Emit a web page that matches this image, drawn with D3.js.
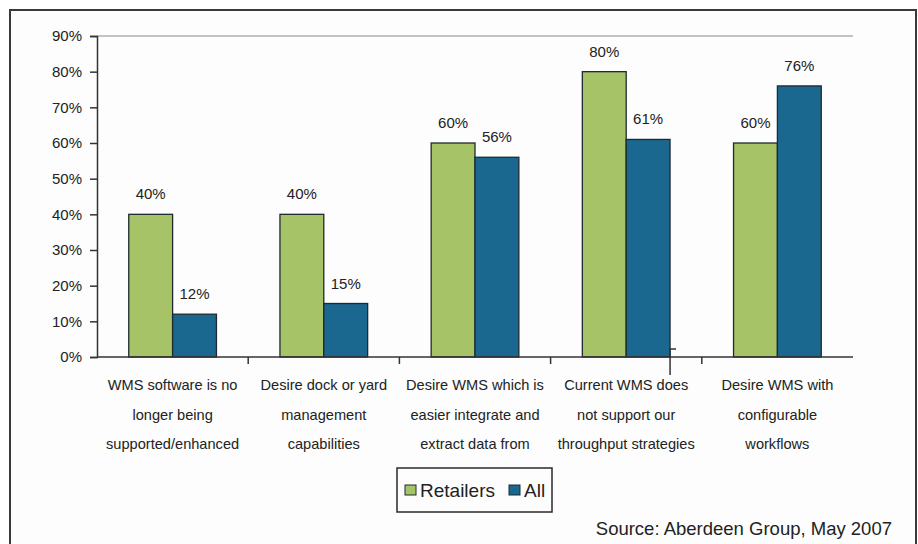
<!DOCTYPE html>
<html><head><meta charset="utf-8">
<script src="https://cdn.jsdelivr.net/npm/d3@7"></script>
<style>
html,body{margin:0;padding:0;background:#fff;}
svg{display:block;}
text{font-family:"Liberation Sans",Arial,sans-serif;fill:#222;}
</style></head>
<body>
<svg id="chart" width="918" height="544"></svg>
<script>
const categories = [
  ["WMS software is no","longer being","supported/enhanced"],
  ["Desire dock or yard","management","capabilities"],
  ["Desire WMS which is","easier integrate and","extract data from"],
  ["Current WMS does","not support our","throughput strategies"],
  ["Desire WMS with","configurable","workflows"]
];
const seriesNames = ["Retailers","All"];
const retailers = [40, 40, 60, 80, 60];
const all = [12, 15, 56, 61, 76];
const yTicks = [0,10,20,30,40,50,60,70,80,90];
const colors = ["#a6c467","#1a678f"];
const sourceText = "Source: Aberdeen Group, May 2007";

const svg = d3.select("#chart");
const W = 918, H = 544;
const m = {left:97, right:65, top:36, bottom:187};

// frame
svg.append("rect").attr("x",10).attr("y",10).attr("width",906).attr("height",540)
  .attr("fill","#fcfdfc").attr("stroke","#3a3a3a").attr("stroke-width",2);

const catIdx = categories.map((d,i)=>i);
const x = d3.scaleBand().domain(catIdx).range([m.left, W - m.right]).padding(0);
const bw = x.bandwidth();
const x1 = d3.scaleBand().domain(seriesNames).range([bw*0.21, bw*0.79]).padding(0);
const y = d3.scaleLinear().domain([0,90]).range([H - m.bottom, m.top]);

// top gridline at 90%
svg.append("line").attr("x1",m.left).attr("x2",W-m.right)
  .attr("y1",y(90)).attr("y2",y(90)).attr("stroke","#8a8a8a").attr("stroke-width",1.2);

const data = catIdx.map(i => ({i, vals:[{s:"Retailers",v:retailers[i],c:colors[0]},{s:"All",v:all[i],c:colors[1]}]}));

const g = svg.append("g");
const groups = g.selectAll("g.grp").data(data).join("g").attr("transform",d=>`translate(${x(d.i)},0)`);
groups.selectAll("rect").data(d=>d.vals).join("rect")
  .attr("x",d=>x1(d.s)).attr("width",x1.bandwidth())
  .attr("y",d=>y(d.v)).attr("height",d=>y(0)-y(d.v))
  .attr("fill",d=>d.c).attr("stroke","#1e2a30").attr("stroke-width",1.3);
groups.selectAll("text.val").data(d=>d.vals).join("text").attr("class","val")
  .attr("x",d=>x1(d.s)+x1.bandwidth()/2).attr("y",d=>y(d.v)-15)
  .attr("text-anchor","middle").attr("font-size",15).text(d=>d.v+"%");

// Y axis
const yAxis = d3.axisLeft(y).tickValues(yTicks).tickFormat(d=>d+"%").tickSize(7).tickPadding(8);
const ya = svg.append("g").attr("transform",`translate(${m.left},0)`).call(yAxis);
ya.select(".domain").attr("stroke","#333").attr("stroke-width",1.5);
ya.selectAll(".tick line").attr("stroke","#333").attr("stroke-width",1.5);
ya.selectAll(".tick text").attr("font-size",15).attr("fill","#222")
  .attr("font-family",'"Liberation Sans",Arial,sans-serif');

// X axis
const xa = svg.append("g").attr("transform",`translate(0,${y(0)})`);
xa.append("line").attr("x1",m.left).attr("x2",W-m.right).attr("stroke","#333").attr("stroke-width",1.5);
xa.selectAll("line.tk").data(catIdx.slice(1)).join("line").attr("class","tk")
  .attr("x1",d=>x(d)).attr("x2",d=>x(d)).attr("y1",0).attr("y2",7)
  .attr("stroke","#333").attr("stroke-width",1.5);

// stray mark near 4th category (as in reference)
const sx = x(3) + x1("All") + x1.bandwidth();
svg.append("path").attr("d",`M${sx},${y(0)-9}L${sx},${y(0)+18}M${sx},${y(0)-8}L${sx+6},${y(0)-8}`)
  .attr("stroke","#333").attr("stroke-width",1.5).attr("fill","none");

// category labels
const cl = svg.append("g");
categories.forEach((lines,i)=>{
  lines.forEach((t,j)=>{
    cl.append("text").attr("x",x(i)+bw/2).attr("y",y(0)+33+j*29.5)
      .attr("text-anchor","middle").attr("font-size",14.6).text(t);
  });
});

// legend
const lg = svg.append("g").attr("transform","translate(397,468)");
lg.append("rect").attr("width",155).attr("height",44).attr("fill","#fcfdfc")
  .attr("stroke","#2a2a2a").attr("stroke-width",1.5);
const legX = [8, 112];
seriesNames.forEach((s,i)=>{
  lg.append("rect").attr("x",legX[i]).attr("y",17).attr("width",11).attr("height",10)
    .attr("fill",colors[i]).attr("stroke","#1e2a30").attr("stroke-width",1);
  lg.append("text").attr("x",legX[i]+15).attr("y",29).attr("font-size",19).text(s);
});

// source
svg.append("text").attr("x",892).attr("y",535).attr("text-anchor","end")
  .attr("font-family",'"Open Sans","DejaVu Sans",sans-serif').attr("font-size",18.5)
  .attr("fill","#2a2a2a").text(sourceText);
</script>
</body></html>
